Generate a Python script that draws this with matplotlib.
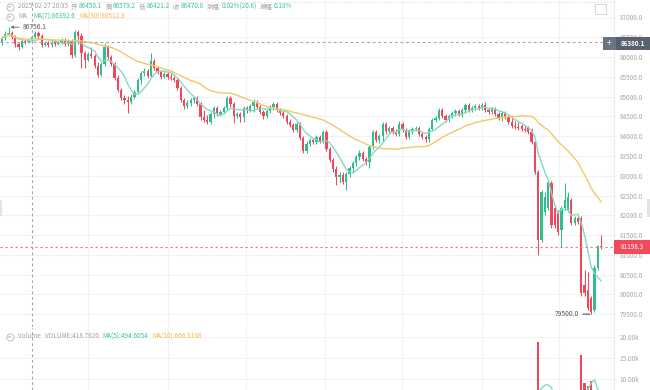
"""
BTC 5m candles with MA(7)/MA(30) and volume pane
"""

import matplotlib.pyplot as plt
import matplotlib.patches as mpatches
from matplotlib.lines import Line2D
import numpy as np
import pandas as pd

plt.rcParams['font.family'] = ['Noto Sans CJK SC', 'DejaVu Sans']

# candles (oldest first)
opens = [
    86360, 86480, 86580, 86610, 86510, 86330, 86250, 86410, 86380, 86430,
    86510, 86610, 86530, 86300, 86360, 86300, 86380, 86330, 86380, 86430,
    86330, 86410, 86050, 86630, 86530, 86100, 85930, 86080, 86030, 85770,
    85550, 85820, 86250, 86000, 85820, 85470, 85170, 84960, 84910, 84860,
    84990, 85120, 85420, 85600, 85650, 85520, 85900, 85720, 85620, 85500,
    85570, 85500, 85470, 85420, 85220, 84910, 84760, 84840, 84910, 84960,
    84810, 84480, 84410, 84360, 84560, 84710, 84560, 84610, 84710, 84960,
    84810, 84510, 84560, 84480, 84710, 84660, 84760, 84860, 84740, 84610,
    84510, 84640, 84740, 84810, 84660, 84590, 84510, 84360, 84280, 84160,
    84310, 83950, 83620, 83800, 83900, 83850, 83980, 83880, 84100, 83680,
    83400, 83170, 82970, 83020, 82840, 83040, 83200, 83320, 83470, 83570,
    83420, 83350, 83730, 84100, 83900, 84000, 84310, 84130, 84210, 84100,
    84050, 84310, 84160, 83980, 84130, 84180, 84210, 84050, 83980, 83930,
    84180, 84410, 84460, 84660, 84510, 84410, 84510, 84590, 84640, 84560,
    84660, 84790, 84660, 84710, 84760, 84710, 84790, 84660, 84610, 84690,
    84560, 84460, 84590, 84480, 84360, 84260, 84230, 84260, 84180, 84210,
    84100, 83850, 83090, 81380, 82080, 82180, 82820, 82180, 82080, 81630,
    82180, 82130, 82390, 81800, 81930, 81930, 80240, 80110, 79910, 79610,
    80670, 81230,
]
closes = [
    86480, 86580, 86610, 86510, 86330, 86250, 86410, 86380, 86430, 86510,
    86610, 86530, 86300, 86360, 86300, 86380, 86330, 86380, 86430, 86330,
    86410, 86050, 86630, 86530, 86100, 85930, 86080, 86030, 85770, 85550,
    85820, 86250, 86000, 85820, 85470, 85170, 84960, 84910, 84860, 84990,
    85120, 85420, 85600, 85650, 85520, 85900, 85720, 85620, 85500, 85570,
    85500, 85470, 85420, 85220, 84910, 84760, 84840, 84910, 84960, 84810,
    84480, 84410, 84360, 84560, 84710, 84560, 84610, 84710, 84960, 84810,
    84510, 84560, 84480, 84710, 84660, 84760, 84860, 84740, 84610, 84510,
    84640, 84740, 84810, 84660, 84590, 84510, 84360, 84280, 84160, 84310,
    83950, 83620, 83800, 83900, 83850, 83980, 83880, 84100, 83680, 83400,
    83170, 82970, 83020, 82840, 83040, 83200, 83320, 83470, 83570, 83420,
    83350, 83730, 84100, 83900, 84000, 84310, 84130, 84210, 84100, 84050,
    84310, 84160, 83980, 84130, 84180, 84210, 84050, 83980, 83930, 84180,
    84410, 84460, 84660, 84510, 84410, 84510, 84590, 84640, 84560, 84660,
    84790, 84660, 84710, 84760, 84710, 84790, 84660, 84610, 84690, 84560,
    84460, 84590, 84480, 84360, 84260, 84230, 84210, 84180, 84160, 84100,
    83850, 83090, 81380, 82590, 82460, 82840, 81750, 81750, 81580, 82180,
    82390, 82460, 81800, 81930, 81830, 80040, 80040, 79660, 79560, 80670,
    81230, 81198.3,
]
highs = [
    86530, 86660, 86756.1, 86660, 86560, 86380, 86460, 86460, 86480, 86560,
    86660, 86660, 86580, 86410, 86410, 86430, 86430, 86410, 86480, 86480,
    86460, 86460, 86680, 86680, 86610, 86150, 86130, 86250, 86080, 85870,
    85870, 86360, 86300, 86050, 85870, 85550, 85220, 85040, 85020, 85070,
    85170, 85470, 85650, 85720, 85700, 86100, 85950, 85770, 85670, 85620,
    85620, 85600, 85520, 85470, 85270, 84960, 84910, 84960, 85020, 85020,
    84860, 84660, 84540, 84610, 84760, 84760, 84660, 84760, 85020, 85020,
    84860, 84610, 84610, 84760, 84760, 84810, 84940, 84910, 84790, 84660,
    84690, 84790, 84860, 84860, 84710, 84640, 84560, 84430, 84330, 84360,
    84360, 84000, 83880, 83950, 83950, 84030, 84030, 84160, 84160, 83730,
    83450, 83250, 83090, 83090, 83090, 83250, 83370, 83520, 83650, 83620,
    83470, 83780, 84160, 84160, 84050, 84360, 84360, 84260, 84260, 84180,
    84380, 84360, 84210, 84180, 84230, 84260, 84260, 84100, 84030, 84230,
    84460, 84510, 84710, 84710, 84560, 84560, 84640, 84690, 84690, 84710,
    84840, 84840, 84760, 84810, 84810, 84840, 84860, 84710, 84740, 84740,
    84610, 84640, 84640, 84540, 84460, 84380, 84360, 84310, 84280, 84260,
    84210, 83900, 83140, 82640, 82590, 82890, 82870, 82230, 82130, 82230,
    82820, 82590, 82440, 81980, 81980, 81980, 80620, 80570, 79960, 80740,
    81250, 81500,
]
lows = [
    86300, 86430, 86530, 86460, 86250, 86180, 86230, 86330, 86360, 86410,
    86480, 86480, 86250, 86280, 86250, 86250, 86280, 86300, 86330, 86280,
    86280, 85980, 86000, 86330, 85720, 85720, 85900, 85980, 85720, 85500,
    85520, 85770, 85950, 85770, 85420, 85120, 84910, 84810, 84590, 84810,
    84940, 85070, 85320, 85520, 85470, 85500, 85670, 85570, 85450, 85470,
    85450, 85420, 85370, 85170, 84860, 84690, 84710, 84760, 84840, 84760,
    84410, 84360, 84310, 84310, 84460, 84510, 84510, 84560, 84660, 84740,
    84330, 84460, 84360, 84360, 84590, 84610, 84610, 84690, 84560, 84430,
    84460, 84590, 84660, 84610, 84540, 84460, 84310, 84230, 84100, 84100,
    83900, 83570, 83570, 83750, 83800, 83800, 83830, 83830, 83620, 83350,
    83090, 82770, 82820, 82790, 82640, 82970, 83070, 83250, 83400, 83370,
    83270, 83200, 83680, 83850, 83830, 83850, 84050, 84080, 84050, 84000,
    84000, 84100, 83930, 83930, 84050, 84130, 84000, 83930, 83850, 83850,
    84130, 84360, 84410, 84460, 84360, 84360, 84460, 84510, 84510, 84480,
    84590, 84610, 84610, 84660, 84660, 84660, 84610, 84560, 84560, 84510,
    84410, 84380, 84430, 84310, 84210, 84180, 84160, 84130, 84100, 84050,
    83800, 83040, 81000, 81320, 82010, 82130, 81680, 81680, 81500, 81200,
    82130, 82080, 81750, 81750, 81780, 79960, 79960, 79610, 79500, 79560,
    80620, 81150,
]
volumes = [
    1200, 950, 1400, 1100, 1300, 1150, 900, 800, 750, 820,
    1000, 880, 1250, 760, 700, 690, 720, 640, 810, 900,
    780, 2600, 3100, 1800, 2400, 1700, 1200, 1100, 1500, 1900,
    1400, 2300, 1600, 1300, 2000, 2200, 1800, 1500, 2100, 1300,
    1200, 1700, 1400, 1100, 1000, 1900, 1200, 950, 1000, 850,
    800, 780, 760, 1300, 1800, 1500, 1100, 900, 870, 1000,
    1900, 1400, 1200, 1100, 1300, 1000, 850, 900, 1400, 1100,
    1600, 1000, 1200, 1300, 900, 850, 1100, 950, 1000, 1150,
    900, 880, 820, 950, 900, 1000, 1300, 1200, 1400, 1100,
    2100, 2600, 1700, 1200, 1000, 1100, 950, 1500, 2300, 2700,
    2500, 2900, 1800, 2000, 2400, 1600, 1400, 1500, 1300, 1200,
    1100, 2000, 2200, 1500, 1300, 1800, 1300, 1000, 950, 900,
    1500, 1100, 1200, 1000, 900, 800, 950, 900, 1000, 1300,
    1500, 1000, 1400, 1100, 1000, 900, 850, 800, 850, 900,
    1000, 900, 800, 750, 700, 780, 820, 760, 700, 800,
    850, 900, 800, 950, 1000, 900, 850, 800, 2000, 2500,
    4000, 7000, 18660, 7400, 6000, 4500, 4000, 4000, 3800, 5200,
    5000, 3800, 4600, 2900, 2600, 15600, 9100, 8400, 9700, 6800,
    4200, 418.762,
]

price_ticks = [79500, 80000, 80500, 81000, 81500, 82000, 82500, 83000,
               83500, 84000, 84500, 85000, 85500, 86000, 86500, 87000]
vol_ticks = [10000, 15000, 20000]
vol_labels = ['10.00k', '15.00k', '20.00k']

cross_idx = 9
cross_price = 86380.1
last_price = 81198.3
max_price = 86756.1
min_price = 79500.0

# legend rows: (text, colour key, extra gap before it in px)
head1 = [('2025-02-27 20:35', 'g', 0), ('开', 'g', 2), ('86450.1', 't', 0.5),
         ('高', 'g', 2), ('86579.2', 't', 0.5), ('低', 'g', 2), ('86421.2', 't', 0.5),
         ('收', 'g', 2), ('86470.8', 't', 0.5), ('涨幅', 'g', 2), ('0.02%(20.8)', 't', 0.5),
         ('振幅', 'g', 2), ('0.18%', 't', 0.5)]
head2 = [('MA', 'g', 0), ('MA(7):86392.6', 't', 5), ('MA(30):86512.3', 'y', 3)]
head3 = [('Volume', 'g', 0), ('VOLUME:418.7620', 'g', 3), ('MA(5):494.6054', 't', 3),
         ('MA(10):666.5108', 'y', 3)]

# ---- layout (pixels of a 650x390 image) ----
W, H = 650, 390
UP, DOWN = '#2dbf8e', '#f0475c'
MA_T, MA_Y = '#86d9c3', '#f6c66a'
TXT = {'g': '#a3a3a3', 't': '#3cc49b', 'y': '#f2b744'}
bar_px, x0_px, plot_w = 3.31, 2.0, 614
grid_px = [88, 168, 246, 325, 402, 482, 559]


def fx(x):
    return x / W


def fy(y):
    return 1 - y / H


def box(x0, y0, x1, y1, color, **kw):
    fig.add_artist(mpatches.Rectangle((fx(x0), fy(y1)), (x1 - x0) / W, (y1 - y0) / H,
                                      transform=fig.transFigure, facecolor=color,
                                      lw=0, **kw))


def icon(x, y):
    fig.add_artist(Line2D([fx(x)], [fy(y)], marker='o', ms=5.2, mfc='none', mec='#b8b8b8',
                          mew=0.6, transform=fig.transFigure))
    fig.add_artist(Line2D([fx(x - 1.4), fx(x), fx(x + 1.4)], [fy(y - 0.5), fy(y + 0.9), fy(y - 0.5)],
                          color='#b8b8b8', lw=0.6, transform=fig.transFigure))


fig = plt.figure(figsize=(W / 100, H / 100), dpi=100)
ax = fig.add_axes([0, fy(327), fx(plot_w), 327 / H])
axv = fig.add_axes([0, 0, fx(plot_w), 62 / H])

n = len(closes)
idx = np.arange(n)
o, c = np.array(opens, float), np.array(closes, float)
colors = np.where(c >= o, UP, DOWN)

# candles
ax.vlines(idx, lows, highs, colors=colors, lw=0.75, zorder=3)
ax.bar(idx, np.maximum(np.abs(c - o), 22), bottom=np.minimum(o, c), width=0.68,
       color=colors, lw=0, zorder=4)

s = pd.Series(closes)
ax.plot(idx, s.rolling(7, min_periods=1).mean(), color=MA_T, lw=1.0, zorder=5)
ax.plot(idx, s.rolling(30, min_periods=1).mean(), color=MA_Y, lw=1.0, zorder=5)

# volume
v = pd.Series(volumes)
axv.bar(idx, volumes, width=0.68, color=colors, lw=0, zorder=3)
axv.plot(idx, v.rolling(5, min_periods=1).mean(), color=MA_T, lw=1.0, zorder=4)
axv.plot(idx, v.rolling(10, min_periods=1).mean(), color=MA_Y, lw=1.0, zorder=4)

xlim = (-x0_px / bar_px, (plot_w - x0_px) / bar_px)
grid_idx = [(g - x0_px) / bar_px for g in grid_px]
for a in (ax, axv):
    a.set_xlim(*xlim)
    a.set_xticks(grid_idx)
    a.tick_params(axis='x', length=0, labelbottom=False)
    a.yaxis.tick_right()
    a.tick_params(axis='y', length=0, pad=4.2, labelsize=4.6, labelcolor='#a8a8a8')
    a.grid(color='#f2f2f2', lw=0.8)
    a.set_axisbelow(True)
    for sp in a.spines.values():
        sp.set_visible(False)
    a.axvline(cross_idx, color='#a5a5a5', lw=0.8, ls=(0, (2.5, 2.5)), zorder=6)

ax.set_ylim(87442.4 - 25.28 * 327, 87442.4)
ax.set_yticks(price_ticks)
ax.set_yticklabels([f'{t:.1f}' for t in price_ticks])
axv.set_ylim(7488, 22042)
axv.set_yticks(vol_ticks)
axv.set_yticklabels(vol_labels)

# crosshair + last price lines
ax.axhline(cross_price, color='#a5a5a5', lw=0.8, ls=(0, (2.5, 2.5)), zorder=6)
ax.axhline(last_price, color='#f27080', lw=0.8, ls=(0, (2, 2.5)), zorder=6)

# max / min marks
ax.annotate(f'{max_price:.1f}', xy=(2.4, max_price), xytext=(9, 0), textcoords='offset points',
            va='center', fontsize=4.8, color='#555555',
            arrowprops=dict(arrowstyle='->', color='#555555', lw=0.6, mutation_scale=4,
                            shrinkA=0.5, shrinkB=0.5))
ax.annotate(f'{min_price:.1f}', xy=(177.6, min_price), xytext=(-8, 0), textcoords='offset points',
            ha='right', va='center', fontsize=4.8, color='#555555',
            arrowprops=dict(arrowstyle='-', color='#555555', lw=0.8, shrinkA=1, shrinkB=0))

# right side tags
box(603, 37, 615.5, 50, '#6b7382', zorder=10)
box(616, 37, 650, 50, '#59616f', zorder=10)
fig.text(fx(609.3), fy(43.4), '+', color='white', fontsize=6, ha='center', va='center', zorder=11)
fig.text(fx(633), fy(43.4), f'{cross_price:.1f}', color='white', fontsize=4.6,
         ha='center', va='center', zorder=11, fontweight='bold')
box(614, 240, 650, 254, '#ef4b5d', zorder=10)
fig.text(fx(632), fy(247), f'{last_price:.1f}', color='white', fontsize=4.6,
         ha='center', va='center', zorder=11)

# frame bits
fig.add_artist(Line2D([fx(plot_w), fx(plot_w)], [0, 1], color='#ececec', lw=0.8,
                      transform=fig.transFigure))
fig.add_artist(Line2D([0, fx(plot_w)], [fy(1.5), fy(1.5)], color='#dcdcdc', lw=0.6,
                      ls=(0, (2, 2)), transform=fig.transFigure))
fig.add_artist(mpatches.Rectangle((fx(595), fy(14)), 11 / W, 10 / H, transform=fig.transFigure,
                                  facecolor='none', edgecolor='#cfcfcf', lw=0.6))
box(0, 200, 2, 216, '#e4e4e4')
box(647, 199, 650, 217, '#e4e4e4')

# legends, laid out left to right with measured widths
renderer = fig.canvas.get_renderer()
for row, y in ((head1, 6.5), (head2, 16.5), (head3, 336.5)):
    icon(9.5, y)
    x = 18.0
    for txt, col, gap in row:
        x += gap
        t = fig.text(fx(x), fy(y), txt, color=TXT[col], fontsize=4.6, va='center', ha='left')
        x = t.get_window_extent(renderer).x1 + 1.0

fig.savefig('out.png', dpi=100)
